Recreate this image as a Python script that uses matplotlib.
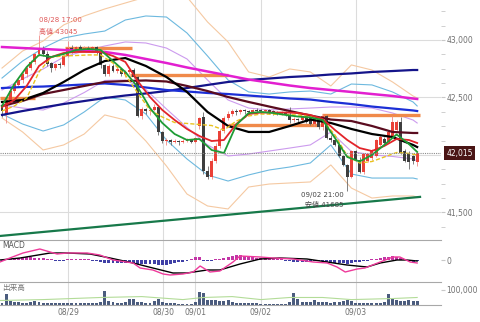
import matplotlib
matplotlib.use('Agg')
import matplotlib.pyplot as plt
from matplotlib.ticker import FixedLocator, FuncFormatter
from matplotlib.transforms import blended_transform_factory
import numpy as np

plt.rcParams['font.family'] = ['DejaVu Sans', 'Noto Sans CJK JP']

# ---------------------------------------------------------------- data
opens = [42420, 42360, 42480, 42560, 42610, 42650, 42700, 42760, 42810, 42880,
         42930, 42880, 42800, 42760, 42790, 42780, 42860, 42930, 42910, 42940,
         42920, 42930, 42915, 42935, 42900, 42780, 42700, 42770, 42730, 42750,
         42700, 42720, 42740, 42680, 42340, 42400, 42380, 42390, 42420, 42200,
         42120, 42130, 42110, 42120, 42110, 42120, 42130, 42110, 42250, 42330,
         41860, 41810, 41950, 42080, 42210, 42320, 42360, 42380, 42370, 42390,
         42380, 42375, 42390, 42385, 42380, 42390, 42375, 42370, 42360, 42370,
         42350, 42300, 42310, 42300, 42340, 42320, 42270, 42310, 42240, 42340,
         42150, 42130, 42090, 41990, 41910, 41810, 42030, 41960, 41850, 41950,
         41970, 41990, 42090, 42140, 42110, 42160, 42220, 42290, 42030, 42020,
         41990, 41940]
highs = [42450, 42490, 42570, 42630, 42670, 42720, 42780, 42830, 42890, 43045,
         42950, 42900, 42810, 42800, 42810, 42870, 42990, 42960, 42950, 42960,
         42945, 42950, 42950, 42945, 42910, 42790, 42790, 42790, 42770, 42760,
         42740, 42750, 42760, 42690, 42420, 42410, 42400, 42440, 42430, 42210,
         42150, 42140, 42140, 42130, 42140, 42150, 42140, 42160, 42330, 42370,
         41900, 41970, 42100, 42230, 42340, 42380, 42400, 42400, 42400, 42400,
         42395, 42400, 42405, 42400, 42400, 42400, 42390, 42385, 42380, 42380,
         42420, 42330, 42320, 42350, 42350, 42350, 42320, 42320, 42360, 42350,
         42170, 42140, 42100, 42000, 41920, 42040, 42040, 41980, 42020, 42020,
         42050, 42140, 42170, 42160, 42210, 42340, 42300, 42330, 42050, 42030,
         42000, 42030]
lows = [42330, 42280, 42460, 42540, 42590, 42630, 42680, 42740, 42790, 42860,
        42860, 42770, 42720, 42740, 42760, 42770, 42850, 42890, 42900, 42910,
        42900, 42900, 42905, 42880, 42760, 42690, 42690, 42720, 42710, 42690,
        42680, 42700, 42670, 42330, 42310, 42360, 42350, 42380, 42170, 42100,
        42090, 42090, 42100, 42090, 42100, 42110, 42100, 42100, 42230, 41830,
        41790, 41790, 41930, 42060, 42190, 42300, 42340, 42350, 42360, 42360,
        42360, 42365, 42370, 42365, 42370, 42360, 42350, 42345, 42350, 42340,
        42280, 42290, 42280, 42290, 42280, 42260, 42250, 42230, 42220, 42140,
        42110, 42080, 41980, 41900, 41685, 41800, 41950, 41840, 41830, 41940,
        41960, 41980, 42080, 42090, 42100, 42150, 42210, 42010, 41940, 41880,
        41920, 41900]
closes = [42380, 42480, 42560, 42620, 42650, 42700, 42760, 42810, 42880, 42930,
          42880, 42790, 42760, 42790, 42780, 42860, 42930, 42910, 42940, 42920,
          42930, 42915, 42935, 42900, 42780, 42700, 42770, 42730, 42750, 42700,
          42720, 42740, 42680, 42340, 42400, 42380, 42390, 42420, 42200, 42120,
          42130, 42110, 42120, 42110, 42120, 42130, 42110, 42150, 42320, 41860,
          41810, 41950, 42080, 42210, 42320, 42360, 42380, 42370, 42390, 42380,
          42375, 42390, 42385, 42380, 42390, 42375, 42370, 42360, 42370, 42350,
          42300, 42310, 42300, 42340, 42290, 42270, 42310, 42240, 42340, 42150,
          42130, 42090, 41990, 41910, 41810, 42030, 41960, 41850, 42010, 42010,
          42040, 42130, 42160, 42100, 42200, 42290, 42290, 42020, 41950, 41940,
          41950, 42015]
volumes = [12000, 70000, 25000, 15000, 15000, 12000, 12000, 15000, 25000, 18000,
           12000, 10000, 10000, 8000, 10000, 12000, 10000, 8000, 8000, 10000,
           8000, 8000, 10000, 12000, 20000, 90000, 25000, 15000, 12000, 12000,
           15000, 40000, 35000, 20000, 15000, 10000, 10000, 25000, 40000, 20000,
           10000, 8000, 8000, 6000, 6000, 5000, 5000, 15000, 85000, 80000,
           30000, 30000, 28000, 25000, 25000, 28000, 20000, 12000, 10000, 8000,
           8000, 8000, 8000, 6000, 6000, 5000, 5000, 5000, 5000, 5000,
           15000, 75000, 40000, 20000, 15000, 15000, 30000, 20000, 18000, 15000,
           12000, 15000, 20000, 25000, 30000, 25000, 12000, 10000, 8000, 8000,
           8000, 8000, 12000, 20000, 70000, 45000, 30000, 25000, 25000, 28000,
           25000, 25000]

slow_x = [0, 5, 10, 15, 20, 25, 30, 35, 40, 45, 50, 55, 60, 65, 70, 75, 80, 85, 90, 95, 100, 101]
navy_ma = [42348, 42382, 42413, 42443, 42469, 42495, 42517, 42535, 42556, 42582, 42609,
           42635, 42652, 42665, 42678, 42687, 42700, 42709, 42722, 42730, 42739, 42739]
blue_ma = [42582, 42591, 42595, 42604, 42613, 42622, 42609, 42587, 42565, 42552, 42539,
           42530, 42517, 42504, 42491, 42482, 42461, 42443, 42421, 42404, 42387, 42382]
magenta_ma = [42939, 42930, 42922, 42913, 42904, 42896, 42870, 42835, 42800, 42761, 42726,
              42691, 42656, 42630, 42604, 42582, 42565, 42548, 42530, 42513, 42491, 42487]
maroon_ma = [42426, 42470, 42530, 42565, 42600, 42635, 42643, 42648, 42639, 42600, 42556,
             42504, 42461, 42421, 42382, 42343, 42308, 42295, 42252, 42200, 42191, 42191]
black_ma = [42461, 42478, 42539, 42635, 42739, 42817, 42843, 42774, 42678, 42548, 42374,
            42252, 42200, 42200, 42252, 42308, 42278, 42226, 42182, 42156, 42087, 42069]
bb_up3 = [42756, 42904, 42991, 43131, 43209, 43270, 43322, 43374, 43392, 43374, 43157,
          42983, 42722, 42678, 42748, 42722, 42600, 42783, 42739, 42635, 42513, 42495]
bb_up2 = [42669, 42817, 42930, 43017, 43052, 43078, 43174, 43209, 43200, 43061, 42861,
          42652, 42548, 42530, 42548, 42556, 42530, 42617, 42609, 42548, 42461, 42426]
bb_up1 = [42565, 42661, 42748, 42852, 42904, 42948, 42983, 42974, 42930, 42835, 42652,
          42478, 42408, 42391, 42400, 42408, 42417, 42417, 42408, 42365, 42304, 42278]
bb_dn1 = [42435, 42408, 42391, 42452, 42543, 42648, 42652, 42569, 42400, 42239, 42087,
          41991, 42008, 42034, 42060, 42087, 42200, 42030, 42000, 41987, 41965, 41947]
bb_dn2 = [42356, 42269, 42208, 42261, 42374, 42504, 42478, 42356, 42130, 41965, 41826,
          41773, 41826, 41869, 41895, 41930, 42087, 41834, 41799, 41799, 41799, 41791]
bb_dn3 = [42321, 42200, 42043, 42087, 42182, 42348, 42304, 42121, 41904, 41660, 41556,
          41530, 41721, 41747, 41756, 41765, 41913, 41712, 41625, 41643, 41643, 41634]

fast_x = [0, 3, 6, 9, 12, 15, 18, 21, 24, 27, 30, 33, 36, 39, 42, 45, 48, 51, 54, 57,
          60, 63, 66, 69, 72, 75, 78, 81, 84, 87, 90, 93, 96, 99, 101]
green_ma = [42426, 42617, 42765, 42870, 42852, 42878, 42913, 42922, 42913, 42817, 42722,
            42591, 42408, 42278, 42182, 42130, 42139, 42043, 42017, 42261, 42365, 42374,
            42365, 42348, 42334, 42326, 42304, 42147, 41982, 41943, 42000, 42087, 42178,
            42095, 42026]
red_ma = [42417, 42478, 42600, 42774, 42852, 42887, 42896, 42896, 42896, 42861, 42809,
          42643, 42504, 42391, 42304, 42226, 42165, 42121, 42130, 42269, 42356, 42369,
          42369, 42369, 42365, 42348, 42313, 42217, 42130, 42060, 42034, 42078, 42139,
          42130, 42104]
yellow_ma = [42382, 42426, 42495, 42722, 42852, 42861, 42865, 42870, 42870, 42800, 42696,
             42539, 42391, 42330, 42282, 42274, 42265, 42256, 42217, 42295, 42339, 42356,
             42354, 42351, 42348, 42334, 42304, 42174, 41991, 41930, 41943, 41982, 42021,
             42013, 42000]

# horizontal levels (orange) and support trend line
level_vals = [42495, 42930, 42696, 42261, 42348]
level_from = [-0.5, 15.3, 31.1, 55.0, 77.9]
level_to = [8.0, 31.6, 55.0, 77.4, 101.7]
trend_x = [-0.5, 101.7]
trend_y = [41295, 41635]

# MACD
macd_x = [-0.5, 1.9, 5.1, 9.2, 11.7, 13.4, 15.8, 20.7, 23.8, 27.0, 31.9, 33.6, 36.7, 39.2,
          40.9, 44.0, 46.5, 48.2, 50.6, 53.0, 56.2, 57.9, 62.8, 65.9, 70.8, 75.7, 79.1,
          81.5, 83.5, 86.4, 88.3, 92.0, 95.1, 96.8, 99.3, 101]
macd_v = [-2, 2, 7, 11, 8, 6, 7, 7, 5, 0, -3, -8, -10, -14, -15, -14, -12, -6, -12, -11,
          -2, 4, 3, 2, 1, -2, -3, -7, -12, -9, -8, -2, 3, 3, -2, -3]
signal_x = [-0.5, 4.4, 11.7, 15.8, 21.4, 26.3, 31.9, 36.7, 41.6, 45.0, 49.9, 53.0, 57.9,
            62.8, 67.6, 74.2, 79.1, 83.9, 88.8, 92.0, 96.1, 98.5, 101]
signal_v = [0, 2, 7, 7, 6, 2, -3, -8, -13, -13, -10, -10, -4, 1, 2, 1, -2, -5, -7, -3, 0, 0, -1]
hist_v = [-0.5, 0.5, 1.5, 2, 2.5, 3, 3, 3, 2.5, 2.5, 2, 1, 0.5, -0.5, -0.5, -0.5, 0, 0,
          0.3, 0.3, 0, 0, -0.3, -0.5, -1.5, -2.5, -3, -3, -3, -3, -3, -3, -3, -3.5, -3.5,
          -4, -4, -4, -4.5, -5, -5, -4, -3, -2, -1.5, -1, 1, 3, 3.5, -1, -1, -0.5, 0, 0.5,
          2, 3, 4, 5, 5, 4.5, 4, 3, 2.5, 2, 1.5, 1, 0.5, 0.3, 0, -0.5, -1, -1.5, -1.5, -2,
          -1.5, -1.5, -1, -1, -1, -1.5, -2, -2.5, -3, -3, -3.5, -3, -2, -1.5, -1, -0.5,
          0.5, 1.5, 2.5, 3, 3.5, 4, 3.5, 2.5, 0.5, -1, -1.5, -1]

vol_ma_x = [-0.5, 10, 24, 34, 44, 49, 56, 63, 70, 78, 85, 95, 101]
vol_ma = [27000, 33000, 47000, 53000, 33000, 47000, 53000, 33000, 47000, 47000, 33000, 40000, 47000]

date_pos = [16.1, 39.2, 47.0, 63.0, 86.1]
date_labels = ['08/29', '08/30', '09/01', '09/02', '09/03']

# ---------------------------------------------------------------- figure
fig = plt.figure(figsize=(4.8, 3.22), dpi=100)
W = 441 / 480
ax = fig.add_axes([0, 82 / 322, W, 240 / 322])
axm = fig.add_axes([0, 40 / 322, W, 42 / 322], sharex=ax)
axv = fig.add_axes([0, 17 / 322, W, 23 / 322], sharex=ax)

grid_c = '#dcdcdc'
txt_c = '#707070'
sep_c = '#a8a8a8'

# bands
ax.plot(slow_x, bb_up3, c='#f5c9a2', lw=0.8, zorder=1)
ax.plot(slow_x, bb_dn3, c='#f5c9a2', lw=0.8, zorder=1)
ax.plot(slow_x, bb_up2, c='#6db9df', lw=0.8, zorder=1)
ax.plot(slow_x, bb_dn2, c='#6db9df', lw=0.8, zorder=1)
ax.plot(slow_x, bb_up1, c='#cc9bee', lw=0.8, zorder=1)
ax.plot(slow_x, bb_dn1, c='#cc9bee', lw=0.8, zorder=1)

ax.hlines(level_vals, level_from, level_to, colors='#f08a4a', lw=2.4, zorder=2)
ax.plot(trend_x, trend_y, c='#17794a', lw=1.6, zorder=2)

# candles
idx = np.arange(len(closes))
o = np.array(opens); c = np.array(closes)
up = c >= o
body_c = np.where(up, '#ea4138', '#3e3e3e')
wick_c = np.where(up, '#f08a86', '#6a6a6a')
ax.vlines(idx, lows, highs, colors=wick_c, lw=0.6, zorder=3)
ax.bar(idx, np.maximum(np.abs(c - o), 8), bottom=np.minimum(o, c), width=0.72,
       color=body_c, zorder=3)

# moving averages
ax.plot(slow_x, navy_ma, c='#14148a', lw=1.6, zorder=4)
ax.plot(slow_x, blue_ma, c='#1c2fd6', lw=1.6, zorder=4)
ax.plot(slow_x, magenta_ma, c='#e21fd0', lw=1.8, zorder=4)
ax.plot(slow_x, maroon_ma, c='#5a0c1f', lw=1.6, zorder=4)
ax.plot(slow_x, black_ma, c='black', lw=1.6, zorder=4)
ax.plot(fast_x, yellow_ma, c='#e9c21e', lw=1.0, ls=(0, (3, 1.5)), zorder=4)
ax.plot(fast_x, red_ma, c='#e2242a', lw=1.3, zorder=5)
ax.plot(fast_x, green_ma, c='#1e9c35', lw=1.3, zorder=5)

# last price
last = closes[-1]
ax.axhline(last, color='#8c8c8c', ls=(0, (1, 1)), lw=0.8, zorder=6)
tr = blended_transform_factory(ax.transAxes, ax.transData)
ax.text(1.012, last, f'{last:,}', transform=tr, color='white', fontsize=5.5,
        va='center', ha='left', clip_on=False, zorder=10,
        bbox=dict(boxstyle='square,pad=0.35', fc='#4a1515', ec='none'))

# high / low notes
hi_i = int(np.argmax(highs)); lo_i = int(np.argmin(lows))
ax.text(hi_i, 43174, '08/28 17:00', color='#e05a5a', fontsize=5, va='center', ha='left')
ax.text(hi_i, 43078, f'高値 {max(highs)}', color='#e05a5a', fontsize=5, va='center', ha='left')
ax.text(lo_i - 0.8, 41652, '09/02 21:00', color='#444444', fontsize=5, va='center', ha='right')
ax.text(lo_i - 0.8, 41573, f'安値 {min(lows)}', color='#444444', fontsize=5, va='center', ha='right')

ax.set_xlim(-0.49, 106.8)
ax.set_ylim(41260, 43348)
ax.yaxis.tick_right()
ax.yaxis.set_major_locator(FixedLocator([41500, 42500, 43000]))
ax.yaxis.set_minor_locator(FixedLocator([v for v in range(41375, 43300, 125) if v % 500]))
ax.yaxis.set_major_formatter(FuncFormatter(lambda v, p: f'{int(v):,}'))
ax.tick_params(axis='y', which='major', length=3, color='#c8c8c8', pad=1,
               labelsize=5.5, labelcolor=txt_c)
ax.tick_params(axis='y', which='minor', length=3, color='#c8c8c8')
ax.axhline(42000, color=grid_c, lw=0.8, zorder=0)
ax.grid(axis='y', which='major', color=grid_c, lw=0.8, zorder=0)

# MACD panel
axm.bar(idx, [v if abs(v) >= 0.8 else (0.8 if v >= 0 else -0.8) for v in hist_v], width=0.72,
        color=['#c235a6' if v >= 0 else '#3f3fa6' for v in hist_v], zorder=2)
axm.plot(signal_x, signal_v, c='black', lw=1.0, zorder=3)
axm.plot(macd_x, macd_v, c='#ee3a9a', lw=1.0, zorder=3)
axm.set_ylim(-22, 20)
axm.yaxis.tick_right()
axm.set_yticks([0])
axm.tick_params(axis='y', length=3, color='#c8c8c8', pad=1, labelsize=5.5, labelcolor=txt_c)
axm.text(0.004, 0.86, 'MACD', transform=axm.transAxes, fontsize=5.5, color='#555555', va='center')

# volume panel
axv.bar(idx, volumes, width=0.72, color='#4b5c7e', zorder=2)
axv.plot(vol_ma_x, vol_ma, c='#b3dc98', lw=0.8, zorder=3)
axv.set_ylim(-3000, 150000)
axv.yaxis.tick_right()
axv.set_yticks([100000])
axv.yaxis.set_major_formatter(FuncFormatter(lambda v, p: f'{int(v):,}'))
axv.tick_params(axis='y', length=3, color='#c8c8c8', pad=1, labelsize=5.5, labelcolor=txt_c)
axv.text(0.004, 0.74, '出来高', transform=axv.transAxes, fontsize=5.5, color='#777777', va='center')

for a in (ax, axm, axv):
    a.set_xticks(date_pos)
    a.grid(axis='x', color=grid_c, lw=0.8, zorder=0)
    a.set_axisbelow(True)
    for s in ('left', 'right', 'top', 'bottom'):
        a.spines[s].set_visible(False)
    a.tick_params(axis='x', length=0)
for a in (axm, axv):
    a.spines['top'].set_visible(True)
    a.spines['top'].set_color(sep_c)
axv.spines['bottom'].set_visible(True)
axv.spines['bottom'].set_color(sep_c)
plt.setp(ax.get_xticklabels(), visible=False)
plt.setp(axm.get_xticklabels(), visible=False)
axv.set_xticklabels(date_labels)
axv.tick_params(axis='x', labelsize=5.5, labelcolor=txt_c, pad=2)

fig.savefig('out.png', dpi=100)
plt.close()
